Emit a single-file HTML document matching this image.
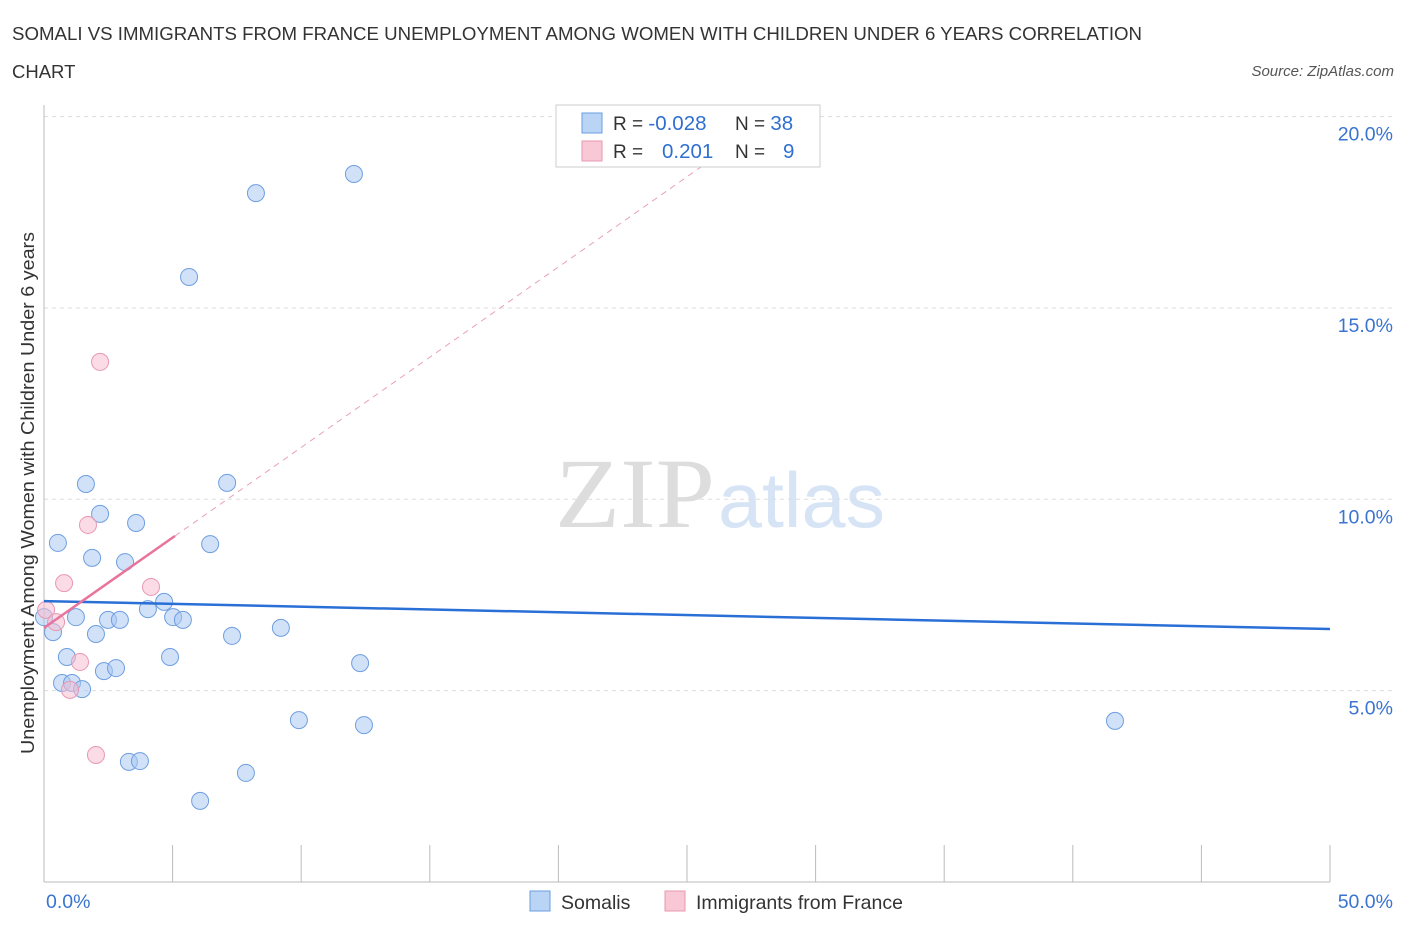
<!DOCTYPE html>
<html><head><meta charset="utf-8"><style>
body{margin:0;background:#fff;font-family:"Liberation Sans",sans-serif}
</style></head><body>
<svg id="c" width="1406" height="930" xmlns="http://www.w3.org/2000/svg">
<text x="12" y="40" font-size="18.5" fill="#333" textLength="1130" lengthAdjust="spacingAndGlyphs">SOMALI VS IMMIGRANTS FROM FRANCE UNEMPLOYMENT AMONG WOMEN WITH CHILDREN UNDER 6 YEARS CORRELATION</text>
<text x="12" y="78" font-size="18.5" fill="#333">CHART</text>
<text x="1394" y="76" font-size="15" fill="#555" font-style="italic" text-anchor="end">Source: ZipAtlas.com</text>
<text x="555" y="527" font-size="100" fill="#ddd" font-family="Liberation Serif,serif" textLength="160" lengthAdjust="spacingAndGlyphs">ZIP</text>
<text x="718" y="527" font-size="78" fill="#d6e4f5" textLength="167" lengthAdjust="spacingAndGlyphs">atlas</text>
<text transform="translate(34,493) rotate(-90)" font-size="18.5" fill="#333" text-anchor="middle" textLength="522" lengthAdjust="spacingAndGlyphs">Unemployment Among Women with Children Under 6 years</text>
<g id="grid"></g><g id="marks"></g>
<g>
<rect x="556" y="105" width="264" height="62" fill="#fff" stroke="#ccc"/>
<rect x="582" y="113" width="20" height="20" fill="#b9d4f5" stroke="#6a9ee0"/>
<rect x="582" y="141" width="20" height="20" fill="#f9c8d7" stroke="#e899b2"/>
<text x="613" y="130" font-size="19" fill="#333">R = <tspan fill="#2f6fd1" font-size="20.5">-0.028</tspan><tspan x="735">N = </tspan><tspan fill="#2f6fd1" font-size="20.5">38</tspan></text>
<text x="613" y="158" font-size="19" fill="#333">R = <tspan x="662" fill="#2f6fd1" font-size="20.5">0.201</tspan><tspan x="735">N = </tspan><tspan x="783" fill="#2f6fd1" font-size="20.5">9</tspan></text>
</g>
<g>
<rect x="530" y="891" width="20" height="20" fill="#b9d4f5" stroke="#6a9ee0"/>
<text x="561" y="909" font-size="19.5" fill="#333">Somalis</text>
<rect x="665" y="891" width="20" height="20" fill="#f9c8d7" stroke="#e899b2"/>
<text x="696" y="909" font-size="19.5" fill="#333">Immigrants from France</text>
</g>
</svg>
<script>
const yTicks=[5,10,15,20];
const yTickLabels=["5.0%","10.0%","15.0%","20.0%"];
const somaliX=[0,0.35,0.54,0.89,0.70,1.09,1.48,1.24,1.63,1.87,2.02,2.18,2.33,2.49,2.80,2.95,3.15,3.30,3.58,3.73,4.04,4.67,4.90,5.02,5.40,5.64,6.07,6.46,7.12,7.31,7.85,8.24,9.21,9.91,12.05,12.29,12.44,41.64];
const somaliY=[6.92,6.53,8.86,5.88,5.20,5.20,5.04,6.92,10.40,8.47,6.48,9.62,5.51,6.85,5.59,6.85,8.36,3.14,9.38,3.16,7.13,7.32,5.88,6.92,6.85,15.81,2.12,8.83,10.43,6.43,2.85,18.00,6.64,4.23,18.50,5.72,4.10,4.21];
const franceX=[0.08,0.47,0.78,1.71,1.40,1.01,2.02,2.18,4.16];
const franceY=[7.11,6.79,7.81,9.33,5.75,5.02,3.32,13.59,7.71];
const somaliTrend=[7.34,6.61];
const franceTrend=[6.64,9.04,5.09];
const NS="http://www.w3.org/2000/svg";
const X=v=>44+v*25.72, Y=v=>882-v*38.27;
function mk(t,a,p){const e=document.createElementNS(NS,t);for(const k in a)e.setAttribute(k,a[k]);p.appendChild(e);return e;}
const g=document.getElementById('grid'),m=document.getElementById('marks');
yTicks.forEach((t,i)=>{
 const l=mk('line',{x1:44,x2:1394,y1:Y(t),y2:Y(t),stroke:'#ddd','stroke-dasharray':'4,4'},g);
 
 
 const tx=mk('text',{x:1393,y:Y(t)+24,'font-size':19.5,fill:'#3a74d0','text-anchor':'end'},g);
 tx.textContent=yTickLabels[i];
 
 
});
const ax=mk('line',{x1:44,x2:44,y1:105,y2:882,stroke:'#bbb'},g);


const bx=mk('line',{x1:44,x2:1330,y1:882,y2:882,stroke:'#bbb'},g);


for(let i=0;i<=10;i++){const t=mk('line',{x1:X(i*5),x2:X(i*5),y1:845,y2:882,stroke:'#bbb'},g);
 
 }
[["0.0%",46,'start'],["50.0%",1393,'end']].forEach(a=>{const t=mk('text',{x:a[1],y:908,'font-size':19.5,fill:'#3a74d0','text-anchor':a[2]},g);t.textContent=a[0];
 
 });
somaliX.forEach((x,i)=>{const c=mk('circle',{cx:X(x),cy:Y(somaliY[i]),r:8.5,fill:'rgba(170,201,242,0.55)',stroke:'#6f9fe0','stroke-width':1},m);
 
 });
franceX.forEach((x,i)=>{const c=mk('circle',{cx:X(x),cy:Y(franceY[i]),r:8.5,fill:'rgba(248,190,208,0.55)',stroke:'#e898b2','stroke-width':1},m);
 
 });
const sl=mk('line',{x1:X(0),y1:Y(somaliTrend[0]),x2:X(50),y2:Y(somaliTrend[1]),stroke:'#2a6fd6','stroke-width':2.5},m);


const slope=(franceTrend[1]-franceTrend[0])/franceTrend[2];
const xe=(20-franceTrend[0])/slope;
const fd=mk('line',{x1:X(franceTrend[2]),y1:Y(franceTrend[1]),x2:X(xe),y2:Y(20),stroke:'#eaa0b8','stroke-width':1,'stroke-dasharray':'6,5'},m);


const fl=mk('line',{x1:X(0),y1:Y(franceTrend[0]),x2:X(franceTrend[2]),y2:Y(franceTrend[1]),stroke:'#e8739b','stroke-width':2.5},m);


</script>
</body></html>
